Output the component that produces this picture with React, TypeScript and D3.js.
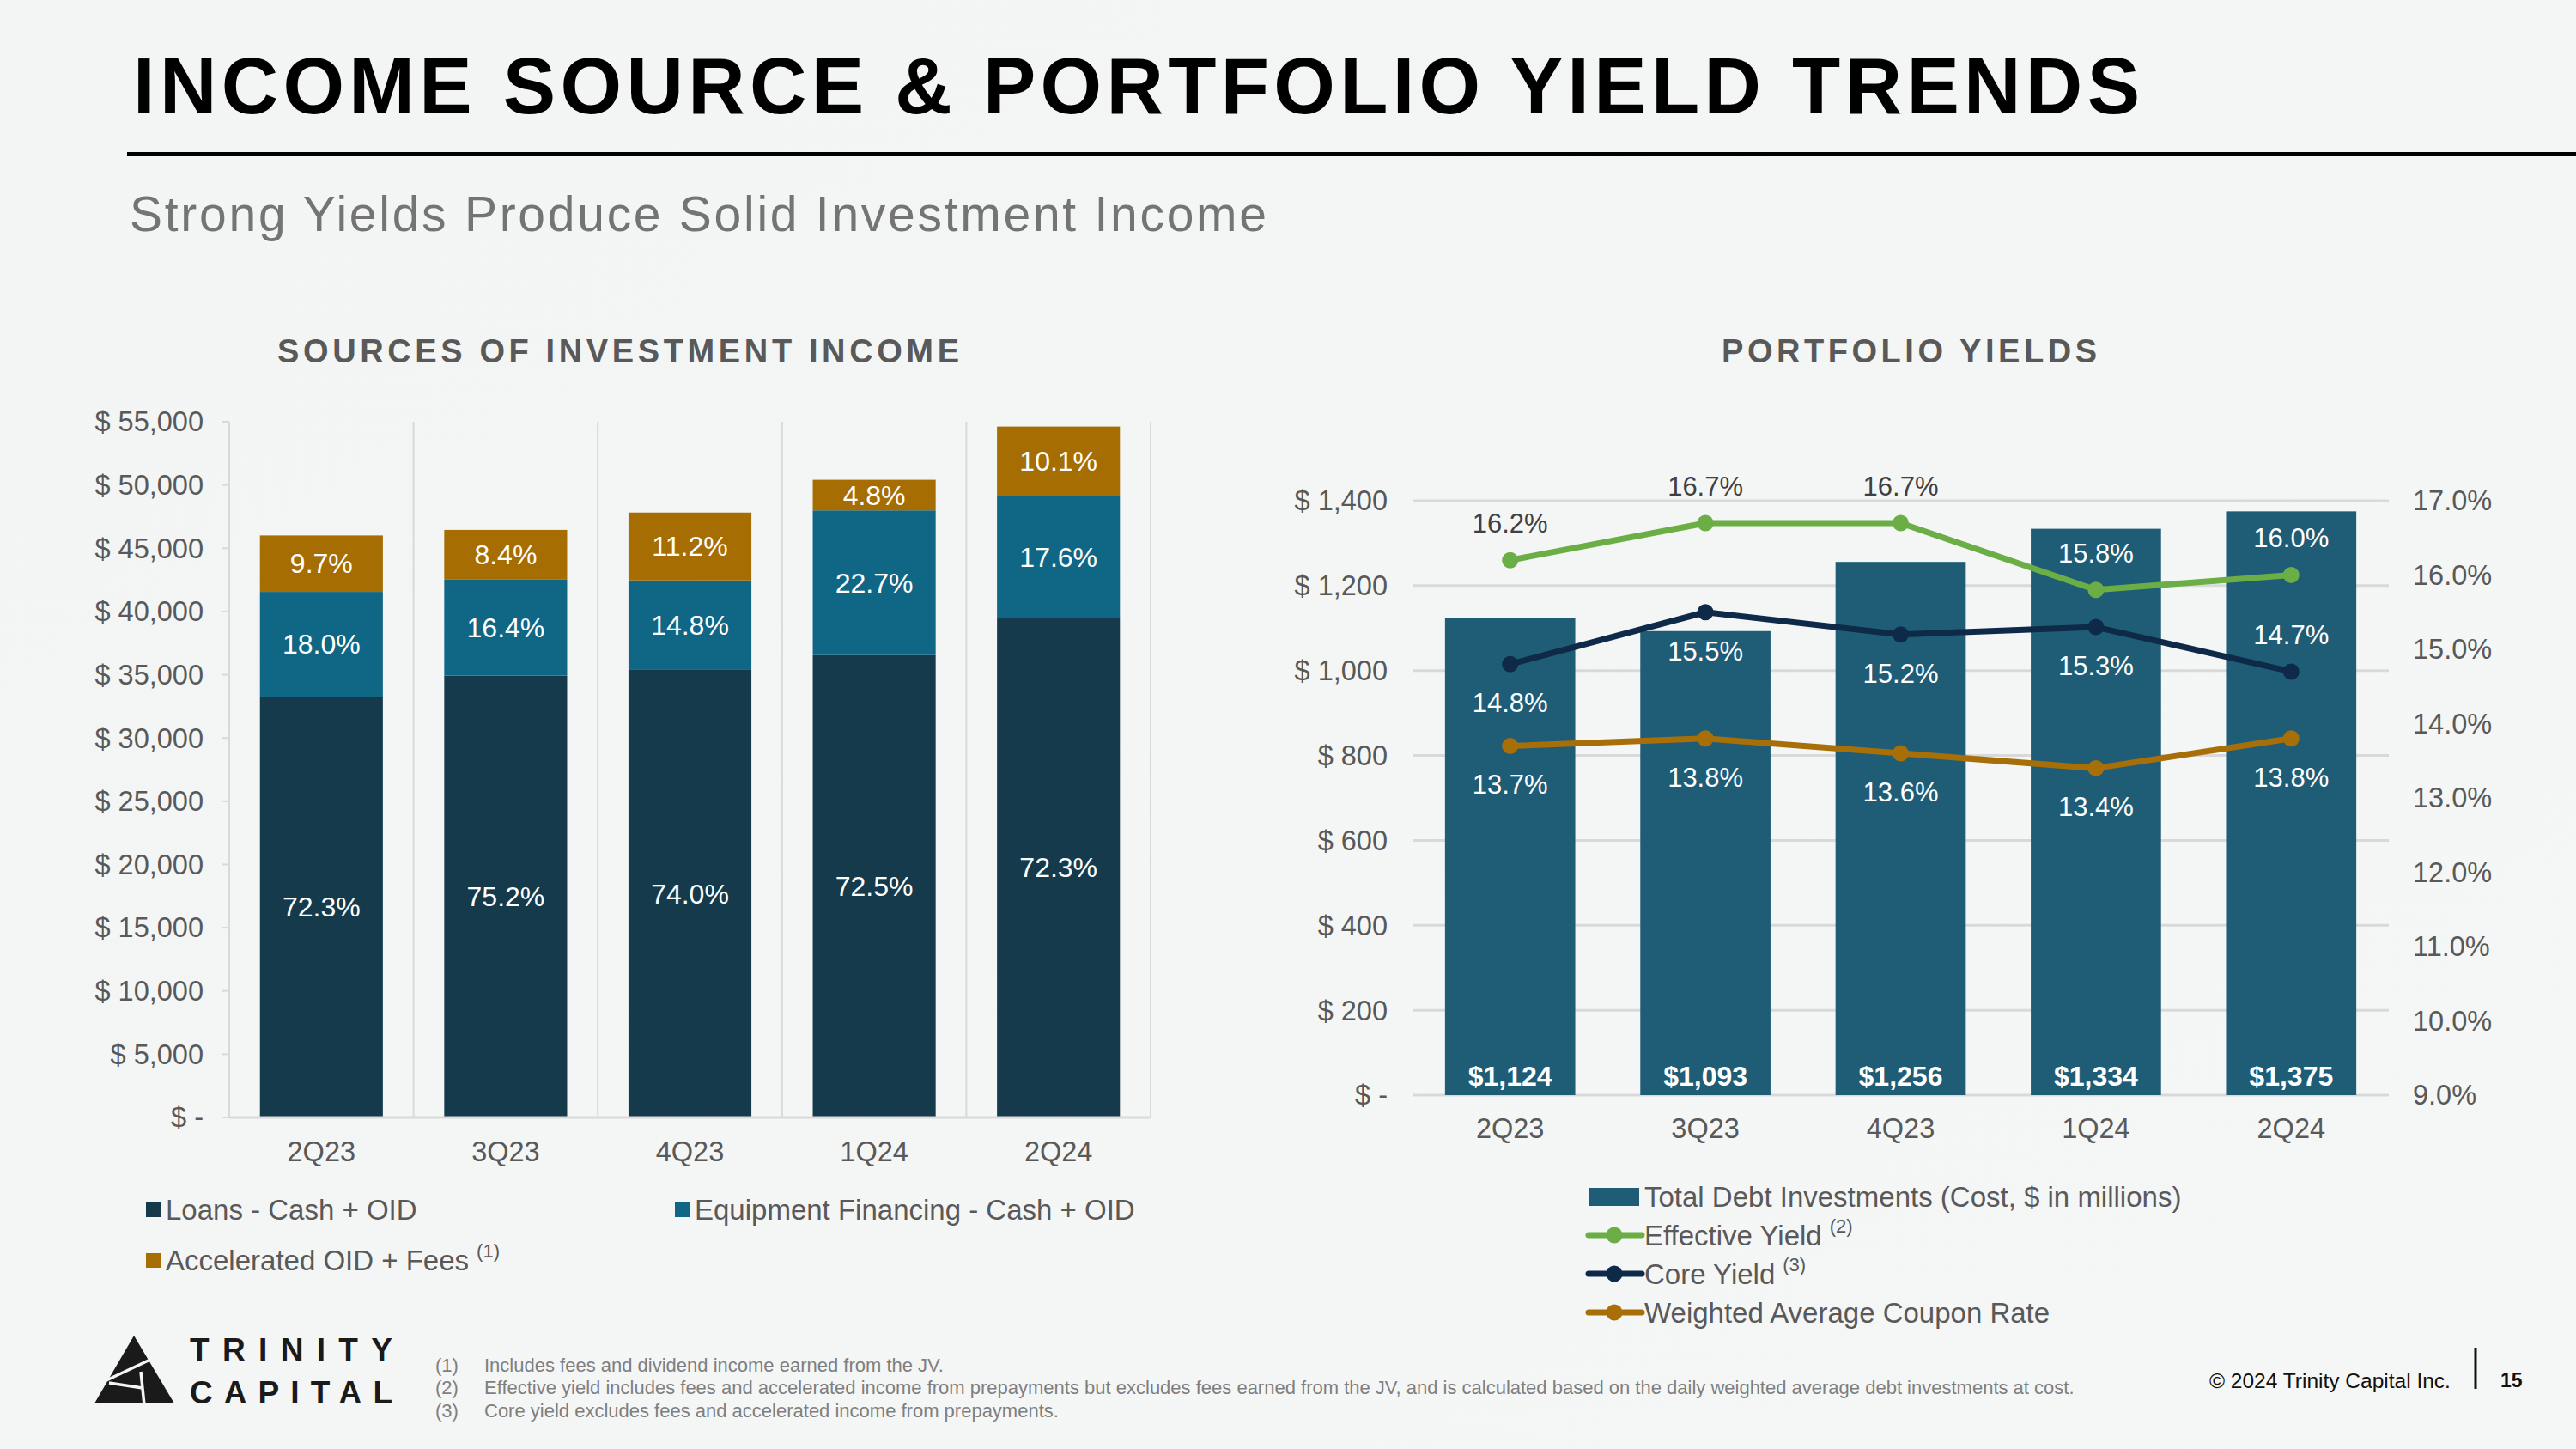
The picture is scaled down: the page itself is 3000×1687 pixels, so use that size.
import React from "react";
import * as d3 from "d3";

const quarters = ["2Q23", "3Q23", "4Q23", "1Q24", "2Q24"];

// Sources of investment income ($ thousands)
const loansIncome = [33270, 34930, 35380, 36550, 39490];
const equipIncome = [8280, 7620, 7080, 11440, 9610];
const feesIncome = [4460, 3900, 5360, 2420, 5520];
const loansPct = ["72.3%", "75.2%", "74.0%", "72.5%", "72.3%"];
const equipPct = ["18.0%", "16.4%", "14.8%", "22.7%", "17.6%"];
const feesPct = ["9.7%", "8.4%", "11.2%", "4.8%", "10.1%"];
const leftTicks = [0, 5000, 10000, 15000, 20000, 25000, 30000, 35000, 40000, 45000, 50000, 55000];

// Portfolio yields
const debtInvestments = [1124, 1093, 1256, 1334, 1375];
const effectiveYield = [16.2, 16.7, 16.7, 15.8, 16.0];
const coreYield = [14.8, 15.5, 15.2, 15.3, 14.7];
const couponRate = [13.7, 13.8, 13.6, 13.4, 13.8];
const coreLabelAbove = [false, false, false, false, true];
const rightTicksDollar = [0, 200, 400, 600, 800, 1000, 1200, 1400];
const rightTicksPct = [9, 10, 11, 12, 13, 14, 15, 16, 17];

const footnotes = [
  ["(1)", "Includes fees and dividend income earned from the JV."],
  ["(2)", "Effective yield includes fees and accelerated income from prepayments but excludes fees earned from the JV, and is calculated based on the daily weighted average debt investments at cost."],
  ["(3)", "Core yield excludes fees and accelerated income from prepayments."],
];

const FONT = "'Liberation Sans', Arial, Helvetica, sans-serif";
const C_LOANS = "#143a4c";
const C_EQUIP = "#0f6785";
const C_FEES = "#a66d02";
const C_BAR = "#1f5d77";
const C_EFF = "#6aae45";
const C_CORE = "#0e2a48";
const C_WACR = "#a86f08";
const C_AXIS = "#595959";
const C_GRID = "#d9d9d9";

export default function App() {
  const W = 3000, H = 1687;

  // Left chart
  const xL = d3.scaleBand<string>().domain(quarters).range([267, 1340]).paddingInner(0.333).paddingOuter(0.1665);
  const yL = d3.scaleLinear().domain([0, 55000]).range([1301, 491]);
  const stepL = xL.step();
  const fmtDollar = (v: number) => (v === 0 ? "$ -" : "$ " + d3.format(",")(v));

  const stacks = quarters.map((q, i) => {
    const segs = [
      { v: loansIncome[i], c: C_LOANS, t: loansPct[i] },
      { v: equipIncome[i], c: C_EQUIP, t: equipPct[i] },
      { v: feesIncome[i], c: C_FEES, t: feesPct[i] },
    ];
    let acc = 0;
    return segs.map((s) => {
      const y0 = acc;
      acc += s.v;
      return { ...s, y0, y1: acc, q };
    });
  });

  // Right chart
  const xR = d3.scaleBand<string>().domain(quarters).range([1645, 2782]).paddingInner(0.333).paddingOuter(0.1665);
  const yR = d3.scaleLinear().domain([0, 1400]).range([1275, 583]);
  const yP = d3.scaleLinear().domain([9, 17]).range([1275, 583]);
  const cx = (q: string) => (xR(q) as number) + xR.bandwidth() / 2;
  const lineGen = d3.line<number>().x((_, i) => cx(quarters[i])).y((d) => yP(d));

  const series = [
    { vals: couponRate, color: C_WACR, above: quarters.map(() => false) },
    { vals: coreYield, color: C_CORE, above: coreLabelAbove },
    { vals: effectiveYield, color: C_EFF, above: quarters.map(() => true) },
  ];

  const labelColor = (i: number, y: number) => (y > yR(debtInvestments[i]) ? "#ffffff" : "#404040");

  return (
    <svg width={W} height={H} style={{ position: "absolute", left: 0, top: 0 }} fontFamily={FONT}>
      <defs>
        <linearGradient id="bg" x1="0" y1="0" x2="1" y2="1">
          <stop offset="0" stopColor="#f3f5f5" />
          <stop offset="1" stopColor="#f5f6f6" />
        </linearGradient>
      </defs>
      <rect x={0} y={0} width={W} height={H} fill="url(#bg)" />

      {/* Header */}
      <text x={155} y={132} fontSize={92} fontWeight="bold" fill="#000" textLength={2337} lengthAdjust="spacing">
        INCOME SOURCE &amp; PORTFOLIO YIELD TRENDS
      </text>
      <rect x={148} y={177} width={W - 148} height={5} fill="#000" />
      <text x={151} y={269} fontSize={57} fill="#747474" textLength={1324} lengthAdjust="spacing">
        Strong Yields Produce Solid Investment Income
      </text>

      {/* Section titles */}
      <text x={323} y={422} fontSize={38} fontWeight="bold" fill={C_AXIS} textLength={794} lengthAdjust="spacing">
        SOURCES OF INVESTMENT INCOME
      </text>
      <text x={2005} y={422} fontSize={38} fontWeight="bold" fill={C_AXIS} textLength={437} lengthAdjust="spacing">
        PORTFOLIO YIELDS
      </text>

      {/* ===== Left chart ===== */}
      <g>
        {quarters.map((q, i) => (
          <line key={"sep" + i} x1={267 + stepL * (i + 1)} x2={267 + stepL * (i + 1)} y1={491} y2={1301} stroke={C_GRID} strokeWidth={2} />
        ))}
        <line x1={267} x2={267} y1={491} y2={1301} stroke={C_GRID} strokeWidth={2} />
        {leftTicks.map((t) => (
          <g key={"lt" + t}>
            <line x1={259} x2={267} y1={yL(t)} y2={yL(t)} stroke={C_GRID} strokeWidth={2} />
            <text x={237} y={yL(t)} dy="0.35em" textAnchor="end" fontSize={32.5} fill={C_AXIS}>
              {fmtDollar(t)}
            </text>
          </g>
        ))}
        {stacks.map((segs, i) =>
          segs.map((s, j) => (
            <rect key={"b" + i + "-" + j} x={xL(s.q)} width={xL.bandwidth()} y={yL(s.y1)} height={yL(s.y0) - yL(s.y1)} fill={s.c} />
          ))
        )}
        {stacks.map((segs, i) =>
          segs.map((s, j) => (
            <text key={"bl" + i + "-" + j} x={(xL(s.q) as number) + xL.bandwidth() / 2} y={(yL(s.y0) + yL(s.y1)) / 2} dy="0.35em" textAnchor="middle" fontSize={32} fill="#fff">
              {s.t}
            </text>
          ))
        )}
        <line x1={267} x2={1340} y1={1301} y2={1301} stroke={C_GRID} strokeWidth={3} />
        {quarters.map((q) => (
          <text key={"xl" + q} x={(xL(q) as number) + xL.bandwidth() / 2} y={1341} dy="0.35em" textAnchor="middle" fontSize={32.5} fill={C_AXIS}>
            {q}
          </text>
        ))}

        {/* Legend */}
        <rect x={170} y={1400} width={17} height={17} fill={C_LOANS} />
        <text x={193} y={1408} dy="0.35em" fontSize={33} fill={C_AXIS}>Loans - Cash + OID</text>
        <rect x={786} y={1400} width={17} height={17} fill={C_EQUIP} />
        <text x={809} y={1408} dy="0.35em" fontSize={33} fill={C_AXIS}>Equipment Financing - Cash + OID</text>
        <rect x={170} y={1459} width={17} height={17} fill={C_FEES} />
        <text x={193} y={1467} dy="0.35em" fontSize={33} fill={C_AXIS}>
          Accelerated OID + Fees
          <tspan fontSize={22} dx={9} dy={-15}>(1)</tspan>
        </text>
      </g>

      {/* ===== Right chart ===== */}
      <g>
        {rightTicksDollar.map((t) => (
          <g key={"rt" + t}>
            <line x1={1645} x2={2782} y1={yR(t)} y2={yR(t)} stroke={C_GRID} strokeWidth={3} />
            <text x={1616} y={yR(t)} dy="0.35em" textAnchor="end" fontSize={32.5} fill={C_AXIS}>
              {fmtDollar(t)}
            </text>
          </g>
        ))}
        {rightTicksPct.map((t) => (
          <text key={"rp" + t} x={2810} y={yP(t)} dy="0.35em" textAnchor="start" fontSize={32.5} fill={C_AXIS}>
            {t.toFixed(1) + "%"}
          </text>
        ))}
        {quarters.map((q, i) => (
          <rect key={"rb" + q} x={xR(q)} width={xR.bandwidth()} y={yR(debtInvestments[i])} height={yR(0) - yR(debtInvestments[i])} fill={C_BAR} />
        ))}
        {quarters.map((q, i) => (
          <text key={"rbl" + q} x={cx(q)} y={1253} dy="0.35em" textAnchor="middle" fontSize={32} fontWeight="bold" fill="#fff">
            {"$" + d3.format(",")(debtInvestments[i])}
          </text>
        ))}
        {series.map((s, si) => (
          <g key={"s" + si}>
            <path d={lineGen(s.vals) as string} fill="none" stroke={s.color} strokeWidth={7} strokeLinejoin="round" />
            {s.vals.map((v, i) => (
              <circle key={"c" + i} cx={cx(quarters[i])} cy={yP(v)} r={9.5} fill={s.color} />
            ))}
          </g>
        ))}
        {series.map((s, si) =>
          s.vals.map((v, i) => {
            const ly = yP(v) + (s.above[i] ? -43 : 45);
            return (
              <text key={"lbl" + si + "-" + i} x={cx(quarters[i])} y={ly} dy="0.35em" textAnchor="middle" fontSize={31} fill={labelColor(i, ly)}>
                {v.toFixed(1) + "%"}
              </text>
            );
          })
        )}
        {quarters.map((q) => (
          <text key={"xr" + q} x={cx(q)} y={1314} dy="0.35em" textAnchor="middle" fontSize={32.5} fill={C_AXIS}>
            {q}
          </text>
        ))}

        {/* Legend */}
        <rect x={1850} y={1383} width={59} height={21} fill={C_BAR} />
        <text x={1915} y={1393} dy="0.35em" fontSize={33} fill={C_AXIS}>Total Debt Investments (Cost, $ in millions)</text>
        {[
          { y: 1438, c: C_EFF, t: "Effective Yield", sup: "(2)" },
          { y: 1483, c: C_CORE, t: "Core Yield", sup: "(3)" },
          { y: 1528, c: C_WACR, t: "Weighted Average Coupon Rate", sup: "" },
        ].map((l) => (
          <g key={l.t}>
            <line x1={1850} x2={1912} y1={l.y} y2={l.y} stroke={l.c} strokeWidth={7} strokeLinecap="round" />
            <circle cx={1880} cy={l.y} r={9.5} fill={l.c} />
            <text x={1915} y={l.y} dy="0.35em" fontSize={33} fill={C_AXIS}>
              {l.t}
              {l.sup ? <tspan fontSize={22} dx={9} dy={-15}>{l.sup}</tspan> : null}
            </text>
          </g>
        ))}
      </g>

      {/* ===== Footer ===== */}
      <g>
        <polygon points="156,1555 110,1634 203,1634" fill="#1a1a1a" />
        <line x1={124} x2={177} y1={1607} y2={1582} stroke="#f4f6f6" strokeWidth={3.5} />
        <line x1={127} x2={166} y1={1610} y2={1616} stroke="#f4f6f6" strokeWidth={3.5} />
        <line x1={164} x2={168} y1={1597} y2={1636} stroke="#f4f6f6" strokeWidth={3.5} />
        <text x={221} y={1584} fontSize={37} fontWeight="bold" fill="#1a1a1a" textLength={236} lengthAdjust="spacing">TRINITY</text>
        <text x={221} y={1634} fontSize={37} fontWeight="bold" fill="#1a1a1a" textLength={236} lengthAdjust="spacing">CAPITAL</text>

        {footnotes.map((f, i) => (
          <g key={"fn" + i}>
            <text x={507} y={1589 + i * 26.5} dy="0.35em" fontSize={22} fill="#7f7f7f">{f[0]}</text>
            <text x={564} y={1589 + i * 26.5} dy="0.35em" fontSize={22} fill="#7f7f7f">{f[1]}</text>
          </g>
        ))}

        <text x={2573} y={1607} dy="0.35em" fontSize={24.5} fill="#111">© 2024 Trinity Capital Inc.</text>
        <line x1={2883} x2={2883} y1={1569} y2={1617} stroke="#111" strokeWidth={3} />
        <text x={2912} y={1607} dy="0.35em" fontSize={23} fontWeight="bold" fill="#111">15</text>
      </g>
    </svg>
  );
}
